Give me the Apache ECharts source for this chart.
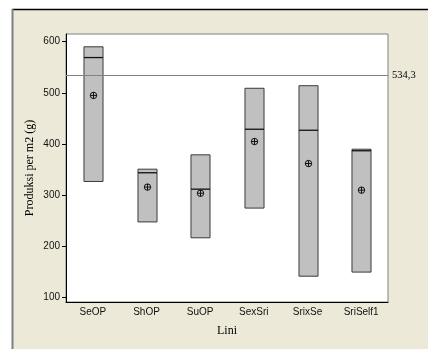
<!DOCTYPE html>
<html>
<head>
<meta charset="utf-8">
<script src="https://cdn.jsdelivr.net/npm/echarts@6/dist/echarts.min.js"></script>
<style>
html,body{margin:0;padding:0;background:#fff;}
#c{width:428px;height:349px;}
</style>
</head>
<body>
<div id="c"></div>
<script>
const categories = ['SeOP','ShOP','SuOP','SexSri','SrixSe','SriSelf1'];
const lowValues    = [327, 248, 217, 275, 142, 150];
const highValues   = [590, 351, 379, 509, 514, 390];
const medianValues = [569, 344, 312, 429, 427, 387];
const meanValues   = [495, 316, 304, 405, 362, 310];
const refValue = 534.3;
const refLabel = '534,3';
const yTicks = [100, 200, 300, 400, 500, 600];

const data = categories.map((c, i) => [i, lowValues[i], highValues[i], medianValues[i], meanValues[i]]);

function renderItem(params, api) {
  const x = api.value(0);
  const lo = api.coord([x, api.value(1)]);
  const hi = api.coord([x, api.value(2)]);
  const med = api.coord([x, api.value(3)]);
  const mn = api.coord([x, api.value(4)]);
  const w = api.size([1, 0])[0] * 0.355;
  const cx = Math.round(lo[0]) + 0.5;
  const left = cx - w / 2;
  const r = 3.2;
  return {
    type: 'group',
    children: [
      { type: 'rect', shape: { x: left, y: hi[1], width: w, height: lo[1] - hi[1] },
        style: { fill: '#C0C0C0', stroke: '#3a3a3a', lineWidth: 1 } },
      { type: 'line', shape: { x1: left, y1: med[1], x2: left + w, y2: med[1] },
        style: { stroke: '#111', lineWidth: 1.3 } },
      { type: 'circle', shape: { cx: cx, cy: mn[1], r: r },
        style: { fill: 'none', stroke: '#111', lineWidth: 1 } },
      { type: 'line', shape: { x1: cx - r, y1: mn[1], x2: cx + r, y2: mn[1] },
        style: { stroke: '#111', lineWidth: 1 } },
      { type: 'line', shape: { x1: cx, y1: mn[1] - r, x2: cx, y2: mn[1] + r },
        style: { stroke: '#111', lineWidth: 1 } }
    ]
  };
}

const chart = echarts.init(document.getElementById('c'), null, { renderer: 'canvas' });
chart.setOption({
  animation: false,
  backgroundColor: '#fff',
  graphic: [
    { type: 'rect', z: -10, shape: { x: 12, y: 9, width: 416, height: 340 },
      style: { fill: '#ECE9D8' } },
    { type: 'line', z: -9, shape: { x1: 12, y1: 9.5, x2: 428, y2: 9.5 },
      style: { stroke: '#000', lineWidth: 1.5 } },
    { type: 'line', z: -9, shape: { x1: 12.5, y1: 9, x2: 12.5, y2: 349 },
      style: { stroke: '#808080', lineWidth: 2 } }
  ],
  grid: { left: 66, right: 40, top: 34, bottom: 47, show: true,
    backgroundColor: '#fff', borderColor: '#808080', borderWidth: 1 },
  xAxis: {
    type: 'category', data: categories, boundaryGap: true,
    name: 'Lini', nameLocation: 'middle', nameGap: 23,
    nameTextStyle: { fontFamily: 'Liberation Serif', fontSize: 12, color: '#000' },
    axisLine: { lineStyle: { color: '#000', width: 1 } },
    axisTick: { alignWithLabel: true, length: 4, lineStyle: { color: '#000' } },
    axisLabel: { fontFamily: 'Liberation Sans', fontSize: 10, color: '#111', margin: 5 }
  },
  yAxis: {
    type: 'value', min: 91.6, max: 615,
    name: 'Produksi per m2 (g)', nameLocation: 'middle', nameGap: 30, nameMoveOverlap: false,
    nameTextStyle: { fontFamily: 'Liberation Serif', fontSize: 12, color: '#000' },
    axisLine: { show: true, lineStyle: { color: '#000', width: 1 } },
    axisTick: { show: true, length: 4, lineStyle: { color: '#000' }, customValues: yTicks },
    axisLabel: { fontFamily: 'Liberation Sans', fontSize: 10, color: '#111', margin: 6, customValues: yTicks },
    splitLine: { show: false }
  },
  series: [{
    type: 'custom',
    renderItem: renderItem,
    data: data,
    encode: { x: 0, y: [1, 2, 3, 4] },
    markLine: {
      silent: true, symbol: 'none',
      lineStyle: { color: '#808080', width: 1, type: 'solid' },
      label: { position: 'end', formatter: refLabel, fontFamily: 'Liberation Serif', fontSize: 10.5, color: '#000', distance: 4 },
      data: [{ yAxis: refValue }]
    }
  }]
});
</script>
</body>
</html>
